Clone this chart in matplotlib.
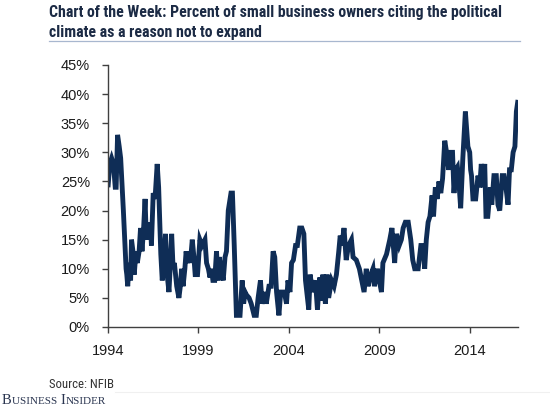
import matplotlib
matplotlib.use("Agg")
import matplotlib.pyplot as plt
from matplotlib.lines import Line2D
from matplotlib.ticker import FuncFormatter
from matplotlib import font_manager as fm

years = [
    1994.00, 1994.10, 1994.20, 1994.30, 1994.40, 1994.45, 1994.53, 1994.62, 1994.70, 1994.85,
    1995.00, 1995.04, 1995.09, 1995.17, 1995.25, 1995.30, 1995.38, 1995.45, 1995.55, 1995.62,
    1995.72, 1995.80, 1995.88, 1995.97, 1996.05, 1996.12, 1996.20, 1996.28, 1996.35, 1996.40,
    1996.50, 1996.60, 1996.72, 1996.80, 1996.92, 1997.00, 1997.08, 1997.18, 1997.27, 1997.37,
    1997.45, 1997.52, 1997.60, 1997.67, 1997.80, 1997.92, 1998.00, 1998.07, 1998.15, 1998.25,
    1998.32, 1998.40, 1998.48, 1998.55, 1998.66, 1998.75, 1998.82, 1998.95, 1999.08, 1999.20,
    1999.36, 1999.45, 1999.55, 1999.64, 1999.72, 1999.80, 1999.90, 2000.00, 2000.08, 2000.15,
    2000.25, 2000.37, 2000.47, 2000.55, 2000.65, 2000.80, 2000.88, 2000.98, 2001.10, 2001.20,
    2001.30, 2001.42, 2001.50, 2001.58, 2001.66, 2001.80, 2001.92, 2002.00, 2002.08, 2002.20,
    2002.30, 2002.43, 2002.52, 2002.67, 2002.75, 2002.90, 2003.02, 2003.13, 2003.22, 2003.32,
    2003.45, 2003.55, 2003.75, 2003.87, 2003.95, 2004.06, 2004.15, 2004.25, 2004.37, 2004.47,
    2004.60, 2004.72, 2004.83, 2004.92, 2005.10, 2005.18, 2005.30, 2005.47, 2005.58, 2005.71,
    2005.80, 2005.88, 2006.02, 2006.12, 2006.20, 2006.36, 2006.50, 2006.63, 2006.76, 2006.84,
    2006.93, 2007.05, 2007.17, 2007.30, 2007.46, 2007.55, 2007.73, 2007.90, 2008.03, 2008.16,
    2008.28, 2008.38, 2008.53, 2008.65, 2008.73, 2008.90, 2009.00, 2009.12, 2009.20, 2009.40,
    2009.58, 2009.70, 2009.85, 2009.95, 2010.10, 2010.22, 2010.32, 2010.44, 2010.60, 2010.74,
    2010.85, 2010.96, 2011.15, 2011.30, 2011.42, 2011.51, 2011.60, 2011.70, 2011.80, 2011.92,
    2012.00, 2012.10, 2012.20, 2012.30, 2012.40, 2012.50, 2012.62, 2012.72, 2012.84, 2012.95,
    2013.05, 2013.13, 2013.22, 2013.32, 2013.40, 2013.50, 2013.62, 2013.76, 2013.90, 2014.00,
    2014.05, 2014.10, 2014.18, 2014.33, 2014.46, 2014.55, 2014.64, 2014.73, 2014.83, 2014.90,
    2015.00, 2015.14, 2015.22, 2015.34, 2015.47, 2015.56, 2015.66, 2015.80, 2015.90, 2016.00,
    2016.12, 2016.20, 2016.30, 2016.40, 2016.50, 2016.58, 2016.67,
]
pct_political = [
    24, 28, 29, 28, 24, 24, 33, 31, 29, 20,
    10, 9, 7, 11, 8, 15, 13, 9, 13, 11,
    13, 17, 13, 17, 22, 15, 18, 15, 18, 14,
    23, 22, 28, 24, 12.5, 8, 11, 16, 9, 6,
    11, 16, 10, 11, 7, 5, 7, 10, 7, 10,
    13, 11, 13, 11, 15, 12, 9, 9, 15, 14,
    15, 11, 10, 8.5, 10, 8, 8, 13, 8, 12,
    10, 8, 12, 13, 20, 23, 23, 14, 2, 2,
    2, 8, 4, 6, 5.5, 5, 4, 3, 2, 2,
    5, 8, 4, 6, 4, 7, 7, 13, 12, 6,
    2, 6, 6, 4, 8, 6, 11, 11.5, 14, 14,
    17, 17, 16, 8, 3, 9, 6, 8, 3, 8.5,
    4.5, 9, 4, 9, 5, 8, 7, 9, 13, 15.7,
    14, 17, 11.5, 14, 15, 12, 11.5, 10, 8, 6,
    10, 7, 9, 10, 7, 10, 8, 6, 11, 12.5,
    15, 17, 11, 16, 14, 15, 17, 18, 18, 15,
    11.5, 10, 10, 14, 14, 10, 15, 18, 19, 22.6,
    19, 24, 22, 25, 23, 25.5, 32, 30, 27, 30,
    30, 23, 27, 27.5, 25, 20.4, 29, 37, 31, 30,
    27, 26, 22, 22, 26, 24, 28, 24, 28, 19,
    19, 24, 21, 26, 26, 21, 20, 26, 26, 24,
    21, 27, 27, 30, 31, 37, 39,
]
x_ticks = [1994, 1999, 2004, 2009, 2014]
y_ticks = [0, 5, 10, 15, 20, 25, 30, 35, 40, 45]

title_lines = ["Chart of the Week: Percent of small business owners citing the political",
               "climate as a reason not to expand"]
source = "Source: NFIB"

LINE = "#0f2d56"
TXT = "#1b1b1b"

names = {f.name for f in fm.fontManager.ttflist}
cond = [n for n in ["Liberation Sans Narrow", "DejaVu Sans Condensed", "Roboto Condensed"] if n in names]
title_family = cond + ["Roboto", "Liberation Sans", "DejaVu Sans"]

fig = plt.figure(figsize=(5.5, 4.12), dpi=100)
ax = fig.add_axes([108/550, 1 - 327/412, (518 - 108)/550, (327 - 65)/412])

ax.plot(years, pct_political, color=LINE, lw=3.5, solid_joinstyle="miter", solid_capstyle="butt")

ax.set_xlim(1994, 2016.67)
ax.set_ylim(0, 45)
ax.set_xticks(x_ticks)
ax.set_yticks(y_ticks)
ax.yaxis.set_major_formatter(FuncFormatter(lambda v, p: f"{int(v)}%"))
for s in ["top", "right"]:
    ax.spines[s].set_visible(False)
for s in ["left", "bottom"]:
    ax.spines[s].set_color("#404040")
    ax.spines[s].set_linewidth(1.0)
ax.tick_params(axis="both", direction="out", length=4, width=1, color="#404040",
               labelsize=10.5, labelcolor=TXT)
ax.tick_params(axis="y", pad=9)
ax.tick_params(axis="x", pad=8)
for lab in ax.get_xticklabels() + ax.get_yticklabels():
    lab.set_fontfamily(["Liberation Sans", "DejaVu Sans"])

fig.canvas.draw()
renderer = fig.canvas.get_renderer()

# title, two lines, fitted to the reference width
title_texts = []
for i, (line, ypx) in enumerate(zip(title_lines, [17.5, 37])):
    t = fig.text(49/550, 1 - ypx/412, line, ha="left", va="baseline", fontsize=12,
                 fontweight="bold", color="#1c2b45", family=title_family)
    title_texts.append(t)
w = title_texts[0].get_window_extent(renderer=renderer).width
if w > 455:
    for t in title_texts:
        t.set_fontsize(12 * 455 / w)
fig.add_artist(Line2D([49/550, 520/550], [1 - 41/412, 1 - 41/412], color="#a8b7cf", lw=0.9))

fig.text(49/550, 1 - 384/412, source, ha="left", va="center", fontsize=9.2, color="#333333",
         family=title_family)
fig.add_artist(Line2D([115/550, 1.0], [1 - 392/412, 1 - 392/412], color="#f0f0f0", lw=0.8))

# Business Insider wordmark in small caps
xpos = 2
parts = [("B", 10.5), ("USINESS ", 8.0), ("I", 10.5), ("NSIDER", 8.0)]
for txt, sz in parts:
    t = fig.text(xpos/550, 1 - 404/412, txt, ha="left", va="baseline", fontsize=sz,
                 color="#2a3550", family=["Liberation Serif", "DejaVu Serif"])
    bb = t.get_window_extent(renderer=renderer)
    xpos += bb.width + 0.3

fig.savefig("out.png", dpi=100)
